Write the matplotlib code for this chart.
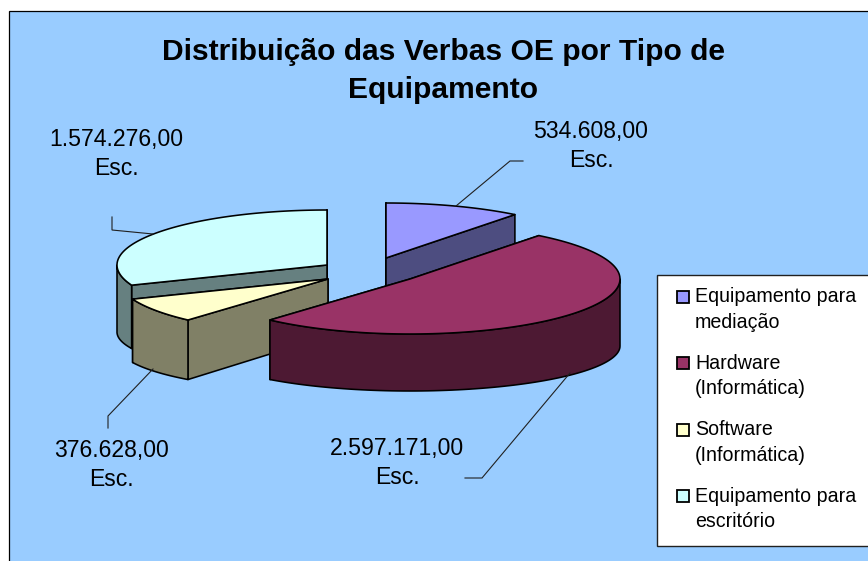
"""Exploded 3D-style pie of the OE budget by type of equipment."""

import numpy as np
import matplotlib
matplotlib.use("Agg")
import matplotlib.pyplot as plt
from matplotlib.patches import Polygon, Rectangle

plt.rcParams["font.family"] = ["Liberation Sans", "DejaVu Sans"]

categories = ["Equipamento para\nmediação", "Hardware\n(Informática)",
              "Software\n(Informática)", "Equipamento para\nescritório"]
values = [534608.00, 2597171.00, 376628.00, 1574276.00]
value_labels = ["534.608,00\nEsc.", "2.597.171,00\nEsc.",
                "376.628,00\nEsc.", "1.574.276,00\nEsc."]
title = "Distribuição das Verbas OE por Tipo de\nEquipamento"

top_colors = ["#9999FF", "#993366", "#FFFFCC", "#CCFFFF"]
side_colors = ["#4D4D80", "#4D1933", "#808066", "#668080"]

# geometry, in pixels of the 868x561 canvas
centers = [(386, 258), (410, 279), (328, 279), (327, 265)]
RX, RY = 210, 55
DEPTH_SIDE = 67   # wall height at the far left/right of the ellipse
RY_BOTTOM = 45    # lower rim is a flatter ellipse (perspective)
draw_order = [3, 0, 2, 1]

leaders = [[(456, 206), (510, 161), (523, 161)],
           [(570, 373), (482, 478), (465, 478)],
           [(153, 369), (108, 416), (108, 428)],
           [(153, 234), (112, 230), (112, 217)]]
label_pos = [(591, 146), (397, 463), (111, 465), (116, 154)]

LW = 1.15


def top_rim(c, deg):
    a = np.radians(deg)
    return np.column_stack([c[0] + RX * np.sin(a), c[1] - RY * np.cos(a)])


def bottom_rim(c, deg):
    a = np.radians(deg)
    return np.column_stack([c[0] + RX * np.sin(a),
                            c[1] + DEPTH_SIDE - RY_BOTTOM * np.cos(a)])


def draw_slice(ax, c, start, end, top, side):
    center_top = np.array([c])
    center_bot = np.array([[c[0], c[1] + DEPTH_SIDE - 10]])
    # radial walls, the one lower on the canvas goes last
    walls = sorted([start, end], key=lambda d: top_rim(c, np.array([d]))[0, 1])
    for deg in walls:
        d = np.array([deg])
        pts = np.vstack([center_top, top_rim(c, d), bottom_rim(c, d), center_bot])
        ax.add_patch(Polygon(pts, fc=side, ec="black", lw=LW, joinstyle="round"))
    # outer wall, only the half that faces the viewer
    lo, hi = max(start, 90), min(end, 270)
    if hi > lo:
        arc = np.linspace(lo, hi, 80)
        pts = np.vstack([top_rim(c, arc), bottom_rim(c, arc)[::-1]])
        ax.add_patch(Polygon(pts, fc=side, ec="black", lw=LW, joinstyle="round"))
    arc = np.linspace(start, end, 120)
    pts = np.vstack([center_top, top_rim(c, arc)])
    ax.add_patch(Polygon(pts, fc=top, ec="black", lw=LW, joinstyle="round"))


fig = plt.figure(figsize=(8.68, 5.61), dpi=100, facecolor="white")
ax = fig.add_axes([0, 0, 1, 1])
ax.set_xlim(0, 868)
ax.set_ylim(561, 0)
ax.axis("off")

ax.add_patch(Rectangle((9, 11), 870, 560, fc="#99CCFF", ec="black", lw=0.9))

shares = np.array(values) / np.sum(values) * 360
ends = np.cumsum(shares)
starts = ends - shares
for i in draw_order:
    draw_slice(ax, centers[i], starts[i], ends[i], top_colors[i], side_colors[i])

for pts, lab, pos in zip(leaders, value_labels, label_pos):
    ax.plot(*zip(*pts), color="#202020", lw=0.8, solid_joinstyle="miter")
    ax.text(pos[0], pos[1], lab, ha="center", va="center", fontsize=16.6,
            linespacing=1.38, color="black")

ax.text(443, 71, title, ha="center", va="center", fontsize=21.6, fontweight="bold",
        linespacing=1.42, color="black")

# legend box runs off the right edge of the canvas, so it is laid out by hand
ax.add_patch(Rectangle((657, 275), 240, 271, fc="white", ec="#202020", lw=1.0))
for i, (name, color) in enumerate(zip(categories, top_colors)):
    y = 309.5 + 66.5 * i
    ax.add_patch(Rectangle((677, y - 19), 12, 12, fc=color, ec="black", lw=1.3))
    ax.text(695, y, name, ha="left", va="center", fontsize=14.1,
            linespacing=1.46, color="black")

fig.savefig("out.png", dpi=100)
